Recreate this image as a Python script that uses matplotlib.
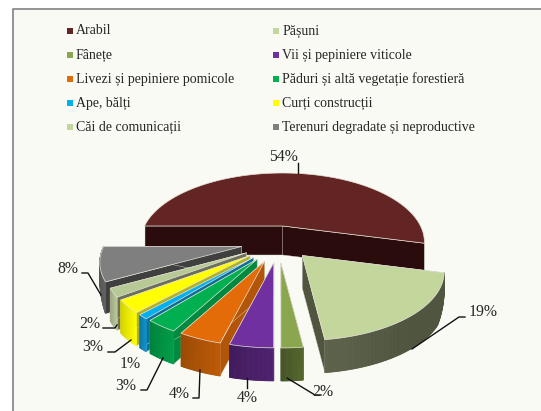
import matplotlib
matplotlib.use('Agg')
import matplotlib.pyplot as plt
from matplotlib.colors import to_rgb
import numpy as np

plt.rcParams['font.family'] = ['Liberation Serif', 'DejaVu Serif']

# data
categories = ['Arabil', 'Pășuni', 'Fânețe', 'Vii și pepiniere viticole',
              'Livezi și pepiniere pomicole', 'Păduri și altă vegetație forestieră',
              'Ape, bălți', 'Curți construcții', 'Căi de comunicații',
              'Terenuri degradate și neproductive']
shares = [54, 19, 2, 4, 4, 3, 1, 3, 2, 8]

top_colors = ['#632523', '#c3d69b', '#8aa64e', '#7030a0', '#e36c09',
              '#00b050', '#00b0f0', '#ffff00', '#b7c994', '#7f7f7f']
wall_colors = ['#2a0c0c', '#505540', '#4a5a28', '#451d63', '#a54f06',
               '#008a40', '#0d80b0', '#e0e000', '#a5b28a', '#555555']
cut_colors = ['#2a0c0c', '#505540', '#4a5a28', '#451d63', '#b35506',
              '#008a40', '#0d6f9a', '#b0b020', '#6b6f5c', '#3f3f3f']
legend_colors = ['#632523', '#c3d69b', '#8aa64e', '#7030a0', '#e36c09',
                 '#00b050', '#00b0f0', '#ffff00', '#c3d69b', '#7f7f7f']

# pixel layout of the 3d pie
cx, cy = 282.5, 226
ax_r, by_r, persp = 138, 65.3, 0.232
depth = 33

# percent labels: text position, leader line
label_pos = [(283, 157), (483, 312), (323, 392), (247, 398), (179, 394),
             (126, 386), (130, 364), (93, 347), (90, 324), (68, 269)]
leaders = [[(298, 173), (298, 163)],
           [(412, 349), (459, 317), (465, 317)],
           [(287, 378), (315, 395), (321, 395)],
           [(247, 378), (247, 388)],
           [(200, 370), (199, 398), (193, 398)],
           [(163, 358), (147, 390), (141, 390)],
           None,
           [(131, 340), (115, 352), (108, 352)],
           [(117, 325), (115, 328), (103, 328)],
           [(101, 295), (88, 273), (82, 273)]]


def rim(t, ox, oy):
    # circle seen in perspective, the front is closer
    a = np.radians(t)
    X, Y = np.sin(a), -np.cos(a)
    s = 1 / (1 - persp * Y)
    return ox + ax_r * X * s, oy + by_r * Y * s


def wall_depth(t):
    # lower rim tucks in towards the sides
    Y = -np.cos(np.radians(t))
    return depth * (0.1 + 0.9 * np.clip(Y / 0.5, 0, 1))


def shade(c, f):
    r = np.array(to_rgb(c))
    return tuple(np.clip(r * f, 0, 1))


fig = plt.figure(figsize=(5.41, 4.11), dpi=100, facecolor='white')
ax = fig.add_axes([0, 0, 1, 1])
ax.set_xlim(0, 541)
ax.set_ylim(411, 0)
ax.axis('off')

# chart area
ax.fill([12, 541, 541, 12], [9.5, 9.5, 411, 411], color='#fafaf4', zorder=0)
ax.plot([12.5, 12.5, 541], [411, 9.5, 9.5], color='#8c8c8c', lw=1.3, zorder=1)

edges = np.concatenate([[0], np.cumsum(shares)]) * 3.6 - 90
mids = (edges[:-1] + edges[1:]) / 2


def draw_slice(i, z):
    t0, t1 = edges[i], edges[i + 1]
    if i == 0:
        ox, oy, d_in = cx, cy, 29
    else:
        a = np.radians(mids[i])
        if np.sin(a) > 0.3:
            ox = cx + 30 * np.sin(a)
            oy = cy + 13 - 22 * np.cos(a)
        else:
            ox = cx - 4 + 38 * np.sin(a)
            oy = cy + 15 - 22 * np.cos(a)
        d_in = depth
    ts = np.linspace(t0, t1, max(int(t1 - t0) * 2, 6))
    xs, ys = rim(ts, ox, oy)
    ds = np.full(len(ts), 29.0) if i == 0 else wall_depth(ts)
    # radial cuts
    for k in (0, -1):
        ax.fill([ox, xs[k], xs[k], ox], [oy, ys[k], ys[k] + ds[k], oy + d_in],
                fc=cut_colors[i], ec='#d8d8d0', lw=0.3, zorder=z)
    # outer wall as thin strips; the back of the biggest slice is hidden
    n = len(ts) - 1
    if i > 0:
        for j in range(n):
            pos = j / n
            f = 1.14 - 0.2 * pos
            if i == 1:
                f = 1.0 + 0.16 * max(0, pos - 0.6) / 0.4
            c = shade(wall_colors[i], f)
            ax.fill([xs[j], xs[j + 1], xs[j + 1], xs[j]],
                    [ys[j], ys[j + 1], ys[j + 1] + ds[j + 1], ys[j] + ds[j]],
                    fc=c, ec=c, lw=0.6, zorder=z)
    # top
    ax.fill(np.r_[ox, xs], np.r_[oy, ys], fc=top_colors[i], ec='#e6e2d8', lw=0.5, zorder=z + 0.5)


# back to front
for z, i in enumerate([0, 1, 9, 8, 7, 6, 5, 4, 3, 2]):
    draw_slice(i, 2 + z)

# legend
for n in range(len(categories)):
    row, col = n // 2, n % 2
    x = 67 + col * 206.5
    y = 31 + row * 24
    ax.plot([x + 2.5], [y], marker='s', ms=4.5, color=legend_colors[n], mew=0, zorder=20)
    ax.text(x + 9, y + 3.5, categories[n], fontsize=10, color='#262626',
            va='baseline', ha='left', zorder=20)

# percent labels
for i in range(len(shares)):
    ax.text(label_pos[i][0], label_pos[i][1], f'{shares[i]}%', fontsize=11.3,
            color='#262626', ha='center', va='center', zorder=20)
    if leaders[i]:
        lx, ly = zip(*leaders[i])
        ax.plot(lx, ly, color='#111111', lw=1.0, zorder=15)

plt.savefig('out.png', dpi=100)
